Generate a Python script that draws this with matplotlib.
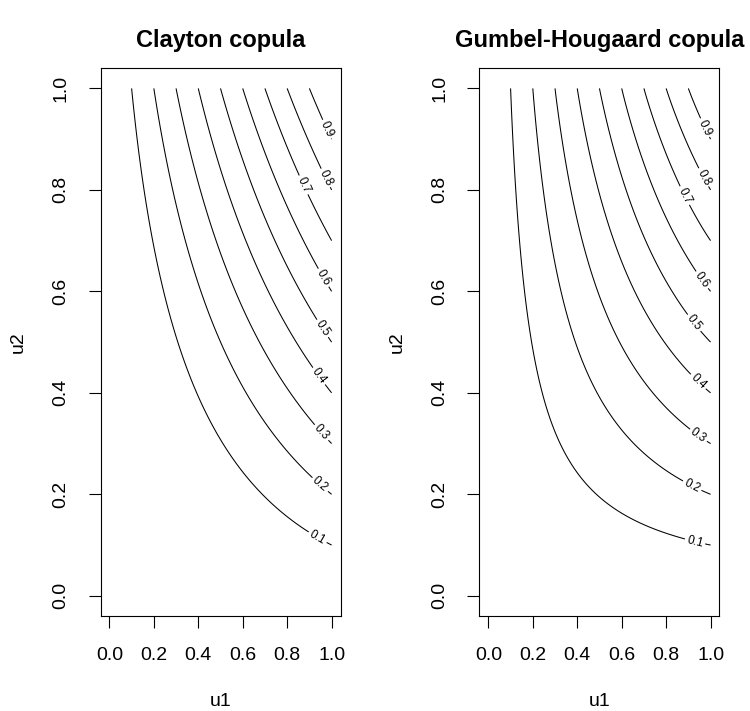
import numpy as np
import matplotlib
matplotlib.use('Agg')
import matplotlib.pyplot as plt

plt.rcParams['font.family'] = ['Liberation Sans', 'DejaVu Sans']

# copula parameters and contour levels
theta_clayton = -0.35
theta_gumbel = 1.02
levels = [0.1, 0.2, 0.3, 0.4, 0.5, 0.6, 0.7, 0.8, 0.9]
ticks = [0.0, 0.2, 0.4, 0.6, 0.8, 1.0]
tick_labels = ['0.0', '0.2', '0.4', '0.6', '0.8', '1.0']
titles = ['Clayton copula', 'Gumbel-Hougaard copula']

# where the level labels sit (u1, u2)
label_pos_clayton = [(0.93, 0.110), (0.94, 0.215), (0.95, 0.320), (0.94, 0.432), (0.97, 0.530),
                     (0.96, 0.626), (0.89, 0.813), (0.971, 0.823), (0.971, 0.918)]
label_pos_gumbel = [(0.93, 0.107), (0.915, 0.215), (0.94, 0.313), (0.944, 0.422), (0.952, 0.547),
                    (0.96, 0.622), (0.889, 0.790), (0.974, 0.826), (0.967, 0.921)]


def clayton(u, v, th):
    s = np.maximum(u ** (-th) + v ** (-th) - 1.0, 0.0)
    return s ** (-1.0 / th)


def gumbel(u, v, th):
    a = (-np.log(u)) ** th + (-np.log(v)) ** th
    return np.exp(-a ** (1.0 / th))


g = np.linspace(0.001, 1.0, 400)
U, V = np.meshgrid(g, g)
Z1 = clayton(U, V, theta_clayton)
Z2 = gumbel(U, V, theta_gumbel)

fig = plt.figure(figsize=(7.5, 7.11), dpi=100)
ax1 = fig.add_axes([0.134, 0.1335, 0.32, 0.7707])
ax2 = fig.add_axes([0.6393, 0.1335, 0.32, 0.7707])

for ax, Z, pos, title in [(ax1, Z1, label_pos_clayton, titles[0]),
                          (ax2, Z2, label_pos_gumbel, titles[1])]:
    cs = ax.contour(U, V, Z, levels=levels, colors='black', linewidths=0.75)
    ax.clabel(cs, levels=levels, inline=True, fmt='%.1f', fontsize=8.5,
              manual=pos, inline_spacing=3)
    ax.set_xlim(-0.04, 1.04)
    ax.set_ylim(-0.04, 1.04)
    ax.set_xticks(ticks)
    ax.set_xticklabels(tick_labels)
    ax.set_yticks(ticks)
    ax.set_yticklabels(tick_labels, rotation=90, va='center')
    ax.tick_params(direction='out', length=8.5, width=0.8, labelsize=14, pad=14)
    for sp in ax.spines.values():
        sp.set_linewidth(0.8)
    ax.set_xlabel('u1', fontsize=14, labelpad=21)
    ax.set_ylabel('u2', fontsize=14, labelpad=18)
    ax.set_title(title, fontsize=17, fontweight='bold', pad=15)

fig.savefig('out.png', dpi=100)
